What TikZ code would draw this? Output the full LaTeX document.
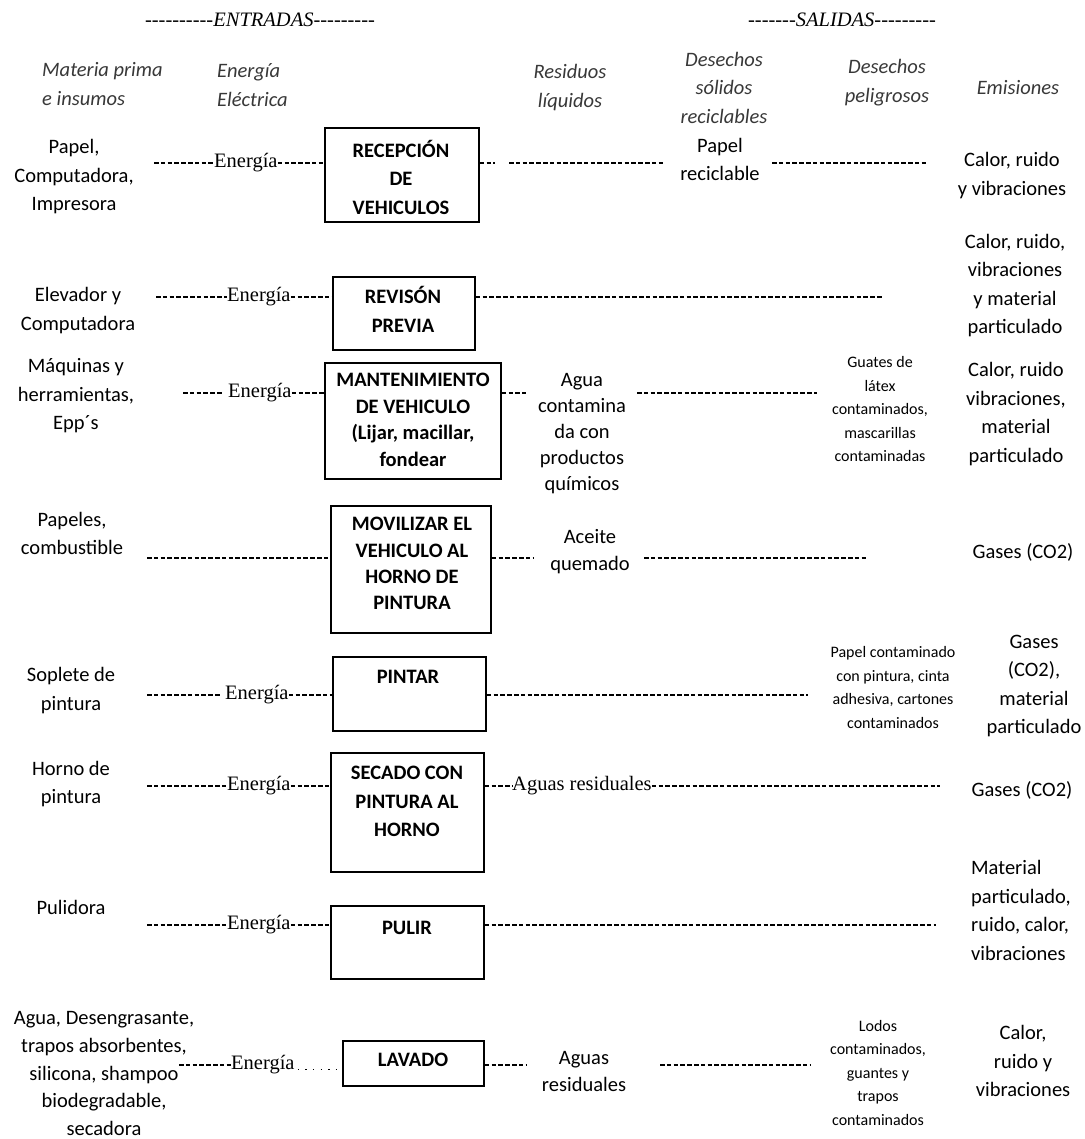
\documentclass[tikz,border=0pt]{standalone}
\usepackage{fontspec}
\setmainfont{Carlito}
\newfontfamily\tnr[Ligatures=TeXOff]{Liberation Serif}
\begin{document}
\begin{tikzpicture}[x=1pt,y=-1pt,
  txt/.style={font=\fontsize{20.5}{28.5}\selectfont, align=center, inner sep=0},
  sm/.style={font=\fontsize{16}{23.5}\selectfont, align=center, inner sep=0},
  hd/.style={font=\fontsize{20.5}{28.5}\selectfont\itshape, text=black!78, align=center, inner sep=0},
  ttl/.style={font=\tnr\fontsize{20.5}{24}\selectfont, inner sep=0},
  en/.style={font=\tnr\fontsize{20.5}{24}\selectfont, inner sep=0, anchor=base west},
  bx/.style={draw, line width=1.5pt, inner sep=0},
  bt/.style={font=\fontsize{20.5}{28.5}\selectfont\bfseries, align=center, inner sep=0},
  dl/.style={line width=1.1pt, dash pattern=on 4.6pt off 2.2pt},
  dt/.style={line width=1.4pt, dash pattern=on 1.4pt off 6.2pt}]
\fill[white] (0,0) rectangle (1084,1139);
\useasboundingbox (0,0) rectangle (1084,1139);

% titles
\node[ttl] (tin) at (260,20) {----------\textit{ENTRADAS}---------};
\node[ttl] (tout) at (842,20) {-------\textit{SALIDAS}---------};

% column headers
\node[hd, align=left, anchor=west] (h1) at (42,84) {Materia prima\\e insumos};
\node[hd, align=left, anchor=west] (h2) at (217,85) {Energía\\Eléctrica};
\node[hd] (h3) at (570,87.5) {Residuos\\líquidos};
\node[hd] (h4) at (724,87.5) {Desechos\\sólidos\\reciclables};
\node[hd] (h5) at (887,82.5) {Desechos\\peligrosos};
\node[hd] (h6) at (1018,88) {Emisiones};

% process boxes
\node[bx, minimum width=154, minimum height=94] (b1) at (402,175) {};
\node[bx, minimum width=142, minimum height=73] (b2) at (404,313.5) {};
\node[bx, minimum width=176, minimum height=116] (b3) at (413,421) {};
\node[bx, minimum width=160, minimum height=127] (b4) at (411,569.5) {};
\node[bx, minimum width=153, minimum height=74] (b5) at (409.5,694) {};
\node[bx, minimum width=153, minimum height=119] (b6) at (407.5,812.5) {};
\node[bx, minimum width=153, minimum height=73] (b7) at (407.5,942.5) {};
\node[bx, minimum width=141, minimum height=45] (b8) at (413.5,1063.5) {};

\node[bt] (t1) at (401,177) {RECEPCIÓN\\DE\\VEHICULOS};
\node[bt] (t2) at (403,309.5) {REVISÓN\\PREVIA};
\node[bt, font=\fontsize{20.5}{26.7}\selectfont\bfseries] (t3) at (413,420) {MANTENIMIENTO\\DE VEHICULO\\(Lijar, macillar,\\fondear};
\node[bt, font=\fontsize{20.5}{26.3}\selectfont\bfseries] (t4) at (412,563.5) {MOVILIZAR EL\\VEHICULO AL\\HORNO DE\\PINTURA};
\node[bt] (t5) at (408,677) {PINTAR};
\node[bt] (t6) at (407,801.5) {SECADO CON\\PINTURA AL\\HORNO};
\node[bt] (t7) at (407,928) {PULIR};
\node[bt] (t8) at (413,1060) {LAVADO};

% inputs
\node[txt] (l1) at (74,177) {Papel,\\Computadora,\\Impresora};
\node[txt] (l2) at (78,310.5) {Elevador y\\Computadora};
\node[txt] (l3) at (76,396) {Máquinas y\\herramientas,\\Epp´s};
\node[txt] (l4) at (72,533.5) {Papeles,\\combustible};
\node[txt] (l5) at (71,690.5) {Soplete de\\pintura};
\node[txt] (l6) at (71,784) {Horno de\\pintura};
\node[txt] (l7) at (71,907) {Pulidora};
\node[txt, font=\fontsize{20.5}{27.8}\selectfont] (l8) at (104,1073.5) {Agua, Desengrasante,\\trapos absorbentes,\\silicona, shampoo\\biodegradable,\\secadora};

% outputs
\node[txt] (s1) at (720,159.5) {Papel\\reciclable};
\node[txt, font=\fontsize{20.5}{26}\selectfont] (m3) at (582,434) {Agua\\contamina\\da con\\productos\\químicos};
\node[txt, font=\fontsize{20.5}{27}\selectfont] (m4) at (590,551.5) {Aceite\\quemado};
\node[txt, font=\fontsize{20.5}{27}\selectfont] (m8) at (584,1071.5) {Aguas\\residuales};

\node[sm] (p3) at (880,409.5) {Guates de\\látex\\contaminados,\\mascarillas\\contaminadas};
\node[sm] (p5) at (893,687.5) {Papel contaminado\\con pintura, cinta\\adhesiva, cartones\\contaminados};
\node[sm] (p8) at (878,1072.5) {Lodos\\contaminados,\\guantes y\\trapos\\contaminados};

\node[txt] (o1) at (1012,175.5) {Calor, ruido\\y vibraciones};
\node[txt] (o2) at (1015,285.5) {Calor, ruido,\\vibraciones\\y material\\particulado};
\node[txt] (o3) at (1016,414) {Calor, ruido\\vibraciones,\\material\\particulado};
\node[txt] (o4) at (1023,552) {Gases (CO2)};
\node[txt] (o5) at (1034,686) {Gases\\(CO2),\\material\\particulado};
\node[txt] (o6) at (1022,790) {Gases (CO2)};
\node[txt, align=left, anchor=west] (o7) at (971,910.5) {Material\\particulado,\\ruido, calor,\\vibraciones};
\node[txt] (o8) at (1023,1061) {Calor,\\ruido y\\vibraciones};

% ---- row 1
\coordinate (a1) at (154,163);
\node[en] (e1) at (214,167.6) {Energía};
\draw[dl] (a1) -- (a1 -| e1.west);
\draw[dl] (e1.east |- a1) -- (b1.west |- a1);
\coordinate (r1a) at (495,163);
\coordinate (r1b) at (509,163);
\coordinate (r1c) at (665,163);
\coordinate (r1d) at (772,163);
\coordinate (r1e) at (927,163);
\draw[dl] (b1.east |- a1) -- (r1a);
\draw[dl] (r1b) -- (r1c);
\draw[dl] (r1d) -- (r1e);

% ---- row 2
\coordinate (a2) at (156,297);
\node[en] (e2) at (227,301.6) {Energía};
\draw[dl] (a2) -- (a2 -| e2.west);
\draw[dl] (e2.east |- a2) -- (b2.west |- a2);
\coordinate (r2a) at (883,297);
\draw[dl] (b2.east |- a2) -- (r2a);

% ---- row 3
\coordinate (a3) at (183,393);
\coordinate (a3b) at (222,393);
\node[en] (e3) at (228,397.6) {Energía};
\draw[dl] (a3) -- (a3b);
\draw[dl] (e3.east |- a3) -- (b3.west |- a3);
\coordinate (r3a) at (526,393);
\coordinate (r3b) at (637,393);
\coordinate (r3c) at (817,393);
\draw[dl] (b3.east |- a3) -- (r3a);
\draw[dl] (r3b) -- (r3c);

% ---- row 4
\coordinate (a4) at (147,558);
\draw[dl] (a4) -- (b4.west |- a4);
\coordinate (r4a) at (533,558);
\coordinate (r4b) at (644,558);
\coordinate (r4c) at (867,558);
\draw[dl] (b4.east |- a4) -- (r4a);
\draw[dl] (r4b) -- (r4c);

% ---- row 5
\coordinate (a5) at (147,695);
\coordinate (a5b) at (220,695);
\node[en] (e5) at (225,699.6) {Energía};
\draw[dl] (a5) -- (a5b);
\draw[dl] (e5.east |- a5) -- (b5.west |- a5);
\coordinate (r5a) at (808,695);
\draw[dl] (b5.east |- a5) -- (r5a);

% ---- row 6
\coordinate (a6) at (147,786);
\node[en] (e6) at (227,790.6) {Energía};
\draw[dl] (a6) -- (a6 -| e6.west);
\draw[dl] (e6.east |- a6) -- (b6.west |- a6);
\node[en] (w6) at (512,790.6) {Aguas residuales};
\coordinate (r6a) at (940,786);
\draw[dl] (b6.east |- a6) -- (w6.west |- a6);
\draw[dl] (w6.east |- a6) -- (r6a);

% ---- row 7
\coordinate (a7) at (147,925);
\node[en] (e7) at (227,929.6) {Energía};
\draw[dl] (a7) -- (a7 -| e7.west);
\draw[dl] (e7.east |- a7) -- (b7.west |- a7);
\coordinate (r7a) at (936,925);
\draw[dl] (b7.east |- a7) -- (r7a);

% ---- row 8
\coordinate (a8) at (179,1065);
\node[en] (e8) at (231,1069.6) {Energía};
\draw[dl] (a8) -- (a8 -| e8.west);
\draw[dt] ([xshift=3pt]e8.base east) -- (b8.west |- e8.base east);
\coordinate (r8a) at (527,1065);
\coordinate (r8b) at (660,1065);
\coordinate (r8c) at (810,1065);
\draw[dl] (b8.east |- a8) -- (r8a);
\draw[dl] (r8b) -- (r8c);
\end{tikzpicture}
\end{document}
